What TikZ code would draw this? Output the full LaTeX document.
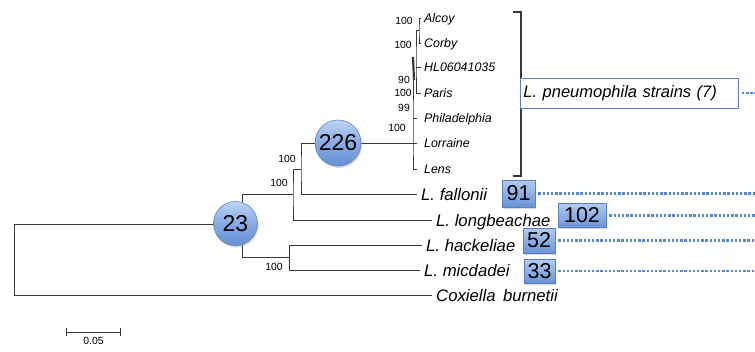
\documentclass[tikz,border=0pt]{standalone}
\usepackage{fontspec}
\setmainfont{Liberation Sans}
\usetikzlibrary{arrows.meta,positioning,shadows}

\begin{document}
\begin{tikzpicture}[x=1pt,y=-1pt,
  branch/.style={draw=black!78,line width=0.95pt},
  leaf/.style={anchor=west,inner xsep=3pt,inner ysep=0pt,text height=8.9pt,text depth=0pt,font=\fontsize{12.4}{14}\selectfont\itshape},
  taxon/.style={anchor=west,inner xsep=4pt,inner ysep=0pt,text height=12pt,text depth=0pt,font=\fontsize{16.7}{18}\selectfont\itshape},
  boot/.style={inner sep=0pt,font=\fontsize{10.4}{12}\selectfont},
  genecount/.style={circle,draw=cedge,line width=0.6pt,top color=ctop,bottom color=cbot,middle color=cmid,inner sep=0pt,font=\fontsize{23}{25}\selectfont,drop shadow={opacity=0.3,shadow xshift=1pt,shadow yshift=-2pt}},
  countbox/.style={rectangle,draw=cedge,line width=0.6pt,top color=btop,bottom color=bbot,inner sep=0pt,font=\fontsize{21.5}{23}\selectfont,drop shadow={opacity=0.3,shadow xshift=1pt,shadow yshift=-1.5pt}},
  dotline/.style={draw=cdot,line width=2.8pt,dash pattern=on 2.5pt off 1.7pt}
]
\definecolor{cedge}{HTML}{5A80C0}
\definecolor{ctop}{HTML}{BED4F4}
\definecolor{cmid}{HTML}{86ABE5}
\definecolor{cbot}{HTML}{6690D4}
\definecolor{btop}{HTML}{B3CCF0}
\definecolor{bbot}{HTML}{6893D8}
\definecolor{cdot}{HTML}{5B87CF}
\useasboundingbox (0,0) rectangle (755,351);
\coordinate (rim) at (755,0);

% leaves of the pneumophila clade
\node[leaf] (alcoy) at (421,18) {Alcoy};
\node[leaf] (corby) at (421,43) {Corby};
\node[leaf] (hl) at (421,67) {HL06041035};
\node[leaf] (paris) at (421,93) {Paris};
\node[leaf] (phil) at (421,118) {Philadelphia};
\node[leaf] (lorr) at (421,143) {Lorraine};
\node[leaf] (lens) at (421,169) {Lens};

% other species
\node[taxon] (fall) at (417,194) {L. fallonii};
\node[taxon] (longb) at (432,220) {L. longbeachae};
\node[taxon] (hack) at (422,245) {L. hackeliae};
\node[taxon] (micd) at (420,270) {L. micdadei};
\node[taxon] (cox) at (432,295) {Coxiella\, burnetii};

% internal nodes
\coordinate (root) at (14,224);
\coordinate (n23) at (242,224);
\coordinate (n293) at (293,194);
\coordinate (n301) at (301,169);
\coordinate (n289) at (289,257);
\coordinate (pn) at (413,143);
\coordinate (pt) at (413,57);
\coordinate (q) at (416,62);
\coordinate (ac) at (419,30);

% tree
\draw[branch] (n23) -- (root) |- (cox);
\draw[branch] (n293) -| (n23) |- (n289);
\draw[branch] (n301) -| (n293) |- (longb);
\draw[branch] (n301 |- pn) -- (pn);
\draw[branch] (n301 |- pn) -- (n301) |- (fall);
\draw[branch] (n289) |- (hack);
\draw[branch] (n289) |- (micd);
\draw[branch] (pt) -- (pn) |- ([xshift=-4pt]lens.west);
\draw[branch,shorten >=4pt] (pn) -- (lorr);
\draw[branch,shorten >=4pt] (pt |- phil) -- (phil);
\draw[black!78,line width=2.2pt] (pt) -- ++(1,23);
\draw[branch] (ac) -| (q) |- (paris);
\draw[branch] (q |- hl) -- (hl);
\draw[branch] (alcoy) -| (ac) |- (corby);

% bootstrap values
\node[boot] (bs1) at (404,21) {100};
\node[boot] (bs2) at (403,45) {100};
\node[boot] (bs3) at (404,80) {90};
\node[boot] (bs4) at (403,93) {100};
\node[boot] (bs5) at (404,108) {99};
\node[boot] (bs6) at (397,128) {100};
\node[boot] (bs7) at (287,159) {100};
\node[boot] (bs8) at (279,183) {100};
\node[boot] (bs9) at (274,267) {100};

% gene counts on branches
\node[genecount,minimum size=44pt] (c23) at (235.5,223.5) {23};
\node[genecount,minimum size=46pt] (c226) at (338,143) {226};

% clade bracket and label
\coordinate (brt) at (513,12);
\coordinate (brb) at (513,176);
\draw[black!78,line width=1.1pt] (brt) -- ++(8,0) |- (brb);
\node[draw=cedge,fill=white,line width=0.8pt,anchor=west,inner xsep=3pt,text width=212pt,minimum height=30pt,
  font=\fontsize{16.5}{18}\selectfont\itshape,drop shadow={opacity=0.15,shadow xshift=1pt,shadow yshift=-1pt}]
  (pneu) at (520,93) {L. pneumophila strains (7)};

% counts of specific genes
\node[countbox,minimum width=33pt,minimum height=27pt] (b91) at (518.5,193.5) {91};
\node[countbox,minimum width=48pt,minimum height=24pt] (b102) at (582,215.5) {102};
\node[countbox,minimum width=32pt,minimum height=25pt] (b52) at (539,240.5) {52};
\node[countbox,minimum width=31pt,minimum height=24pt] (b33) at (539.5,271) {33};

\foreach \b in {pneu,b91,b102,b52,b33} {
  \draw[dotline] ([xshift=3pt]\b.east) -- (\b.east -| rim);
}

% scale bar
\coordinate (sa) at (66,332);
\coordinate (sb) at (121,332);
\coordinate (sm) at (93.5,332);
\draw[black!78,line width=1pt,{Bar[width=8pt]}-{Bar[width=8pt]}] (sa) -- (sb);
\node[boot,below=5pt of sm] (sl) {0.05};
\end{tikzpicture}
\end{document}
